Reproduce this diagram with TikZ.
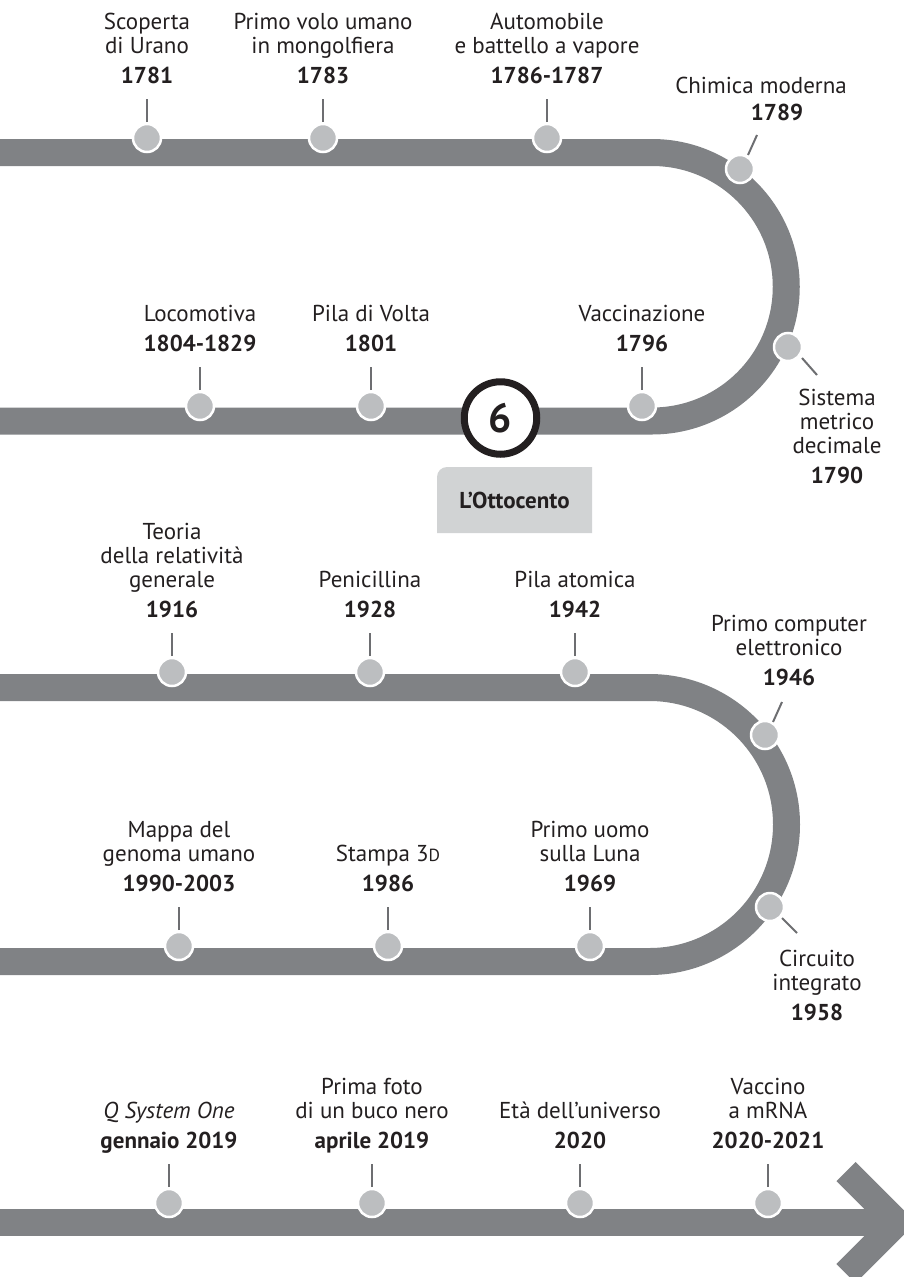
\documentclass[tikz,border=0pt]{standalone}
\usepackage{fontspec}
\setmainfont{PT Sans}
\usetikzlibrary{calc}
\definecolor{bandgray}{HTML}{808285}
\definecolor{dotgray}{HTML}{BCBEC0}
\definecolor{tickgray}{HTML}{6D6E71}
\definecolor{ink}{HTML}{231F20}
\definecolor{boxgray}{HTML}{D1D3D4}
\newcommand\evlabel[2]{\begin{tabular}[b]{@{}c@{}}#1\\[6pt]\textbf{#2}\end{tabular}}
\tikzset{
  band/.style={draw=bandgray, line width=27pt, line join=miter},
  dot/.style={circle, fill=dotgray, draw=white, line width=2.5pt, minimum size=28pt, inner sep=0pt},
  tick/.style={draw=tickgray, line width=2pt},
  lbl/.style={anchor=base, inner sep=0pt, text=ink, font=\fontsize{23}{24}\selectfont},
  era/.style={circle, draw=ink, fill=white, line width=7pt, minimum size=72.5pt, inner sep=0pt, text=ink, font=\bfseries\fontsize{41}{41}\selectfont},
  eratext/.style={inner sep=0pt, text=ink, font=\bfseries\fontsize{23}{24}\selectfont}
}
\begin{document}
\begin{tikzpicture}[x=1pt,y=-1pt]
\useasboundingbox (0,0) rectangle (904,1277);
\clip (0,0) rectangle (904,1277);
% bands
\draw[band] (-5,152.5) -- (652,152.5) arc[start angle=-90, end angle=90, radius=134.25] -- (-5,421);
\draw[band] (-5,687.5) -- (649.5,687.5) arc[start angle=-90, end angle=90, radius=137] -- (-5,961.5);
\draw[band] (-5,1222.5) -- (885,1222.5);
\draw[band] (846,1171.5) -- (897,1222.5) -- (846,1273.5);
% era box
\fill[boxgray] (437,533) -- (437,477) arc[start angle=180, end angle=270, radius=10] -- (592,467) -- (592,533) -- cycle;
\node[eratext] (ottocento) at (514.5,500) {L’Ottocento};
\node[era] (six) at (500.5,418) {6};
% row 1
\node[dot] (d1) at (147,138) {};
\node[dot] (d2) at (323,138) {};
\node[dot] (d3) at (547,138) {};
\node[dot] (d4) at (740,169) {};
\node[dot] (d5) at (788,347) {};
% row 2
\node[dot] (d6) at (642,406) {};
\node[dot] (d7) at (371,406) {};
\node[dot] (d8) at (200,406) {};
% row 3
\node[dot] (d9) at (172,672) {};
\node[dot] (d10) at (370,672) {};
\node[dot] (d11) at (575,672) {};
\node[dot] (d12) at (765,735) {};
\node[dot] (d13) at (770,907) {};
% row 4
\node[dot] (d14) at (590,946) {};
\node[dot] (d15) at (388,946) {};
\node[dot] (d16) at (179,946) {};
% row 5
\node[dot] (d17) at (169,1203) {};
\node[dot] (d18) at (372,1203) {};
\node[dot] (d19) at (580,1203) {};
\node[dot] (d20) at (768,1203) {};
% vertical ticks and labels
\foreach \d in {d1,d2,d3,d6,d7,d8,d9,d10,d11,d14,d15,d16,d17,d18,d19,d20}{
  \draw[tick] ($(\d)+(0,-16)$) -- ($(\d)+(0,-39)$);
}
\draw[tick] ($(d4)+(8,-14)$) -- ($(d4)+(17,-34)$);
\draw[tick] ($(d5)+(14,11)$) -- ($(d5)+(29,28)$);
\draw[tick] ($(d12)+(8,-13)$) -- ($(d12)+(17,-33)$);
\draw[tick] ($(d13)+(12,11)$) -- ($(d13)+(27,26)$);
\node[lbl] (l1) at ($(d1)+(0,-55)$) {\evlabel{Scoperta\\di Urano}{1781}};
\node[lbl] (l2) at ($(d2)+(0,-55)$) {\evlabel{Primo volo umano\\in mongolfiera}{1783}};
\node[lbl] (l3) at ($(d3)+(0,-55)$) {\evlabel{Automobile\\e battello a vapore}{1786-1787}};
\node[lbl] (l4a) at (761,93) {Chimica moderna};
\node[lbl] (l4b) at (777,120) {\textbf{1789}};
\node[lbl] (l5) at (837,483) {\evlabel{Sistema\\metrico\\decimale}{1790}};
\node[lbl] (l6) at ($(d6)+(0,-55)$) {\evlabel{Vaccinazione}{1796}};
\node[lbl] (l7) at ($(d7)+(0,-55)$) {\evlabel{Pila di Volta}{1801}};
\node[lbl] (l8) at ($(d8)+(0,-55)$) {\evlabel{Locomotiva}{1804-1829}};
\node[lbl] (l9) at ($(d9)+(0,-55)$) {\evlabel{Teoria\\della relatività\\generale}{1916}};
\node[lbl] (l10) at ($(d10)+(0,-55)$) {\evlabel{Penicillina}{1928}};
\node[lbl] (l11) at ($(d11)+(0,-55)$) {\evlabel{Pila atomica}{1942}};
\node[lbl] (l12) at (789,685) {\evlabel{Primo computer\\elettronico}{1946}};
\node[lbl] (l13) at (817,1020) {\evlabel{Circuito\\integrato}{1958}};
\node[lbl] (l14) at ($(d14)+(0,-55)$) {\evlabel{Primo uomo\\sulla Luna}{1969}};
\node[lbl] (l15) at ($(d15)+(0,-55)$) {\evlabel{Stampa 3{\fontsize{17.5}{24}\selectfont D}}{1986}};
\node[lbl] (l16) at ($(d16)+(0,-55)$) {\evlabel{Mappa del\\genoma umano}{1990-2003}};
\node[lbl] (l17) at ($(d17)+(0,-55)$) {\evlabel{\textit{Q System One}}{gennaio 2019}};
\node[lbl] (l18) at ($(d18)+(0,-55)$) {\evlabel{Prima foto\\di un buco nero}{aprile 2019}};
\node[lbl] (l19) at ($(d19)+(0,-55)$) {\evlabel{Età dell’universo}{2020}};
\node[lbl] (l20) at ($(d20)+(0,-55)$) {\evlabel{Vaccino\\a mRNA}{2020-2021}};
\end{tikzpicture}
\end{document}
